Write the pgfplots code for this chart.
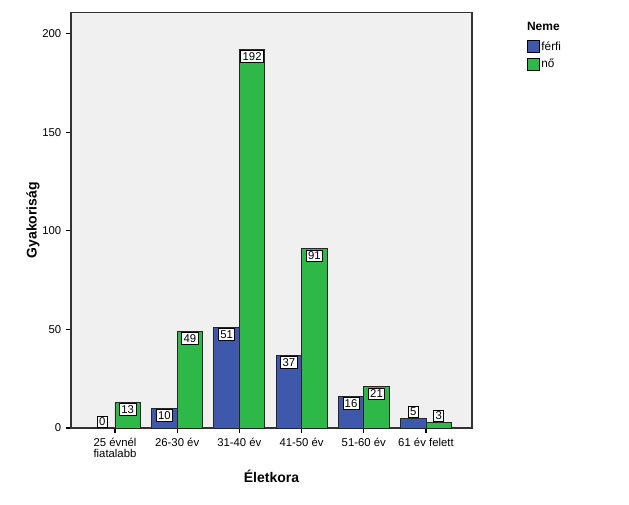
\documentclass[border=0pt]{standalone}
\usepackage{fontspec}
\setmainfont{Liberation Sans}
\usepackage{pgfplots}
\pgfplotsset{compat=1.18}
\definecolor{spssblue}{HTML}{3E58AC}
\definecolor{spssgreen}{HTML}{2EB848}
\definecolor{plotbg}{HTML}{F0F0F0}
\begin{document}
\begin{tikzpicture}
\path[use as bounding box] (-53.25pt,-57pt) rectangle (418.5pt,321pt);
\begin{axis}[
  scale only axis,
  width=300.75pt, height=311.6pt,
  xmin=-0.707, xmax=5.74,
  ymin=0, ymax=210.7,
  axis background/.style={fill=plotbg},
  axis line style={draw=black!80, line width=0.8pt},
  ytick={0,50,100,150,200},
  xtick={0,1,2,3,4,5},
  xticklabels={{25 évnél\\fiatalabb},{26-30 év},{31-40 év},{41-50 év},{51-60 év},{61 év felett}},
  xticklabel style={align=center, font=\fontsize{8.5}{8.6}\selectfont, inner sep=1pt, yshift=-2.5pt},
  yticklabel style={font=\fontsize{8.5}{10}\selectfont},
  /pgf/number format/assume math mode=true,
  tick align=outside,
  major tick length=3.75pt,
  tick style={black, line width=0.8pt},
  xtick pos=bottom, ytick pos=left,
  ybar, bar width=0.41,
  ylabel={\textbf{Gyakoriság}},
  xlabel={\textbf{Életkora}},
  label style={font=\fontsize{10.5}{12}\selectfont},
  ylabel style={at={(axis description cs:-0.0948,0.5)}, anchor=center},
  xlabel style={at={(axis description cs:0.5,-0.1155)}, anchor=center},
  nodes near coords,
  visualization depends on={rawy \as \rawy},
  every node near coord/.append style={draw=black, fill=white, inner sep=1.4pt, text=black,
     font=\fontsize{8.5}{9}\selectfont, line width=0.5pt},
  every node near coord/.append code={\ifdim\rawy pt<8pt \pgfkeysalso{anchor=south, yshift=0pt}\else\pgfkeysalso{anchor=north, yshift=-0.75pt}\fi},
  legend style={at={(rel axis cs:1.137,0.935)}, anchor=north west, draw=none, fill=none,
     font=\fontsize{8.8}{10}\selectfont, row sep=2.5pt, inner sep=0pt,
     nodes={inner sep=1.2pt}},
  legend image code/.code={\draw[#1, draw=black, line width=0.5pt] (0pt,-4.5pt) rectangle (9pt,4.5pt);},
  legend cell align=left,
  clip=false,
]
\addplot[fill=spssblue, draw=black!85, line width=0.6pt, bar shift=-0.205] coordinates {(0,0) (1,10) (2,51) (3,37) (4,16) (5,5)};
\addplot[fill=spssgreen, draw=black!85, line width=0.6pt, bar shift=0.205] coordinates {(0,13) (1,49) (2,192) (3,91) (4,21) (5,3)};
\legend{férfi, nő}
\node[font=\bfseries\fontsize{9}{10}\selectfont] at (rel axis cs:1.178,0.9655) {Neme};
\end{axis}
\end{tikzpicture}
\end{document}
